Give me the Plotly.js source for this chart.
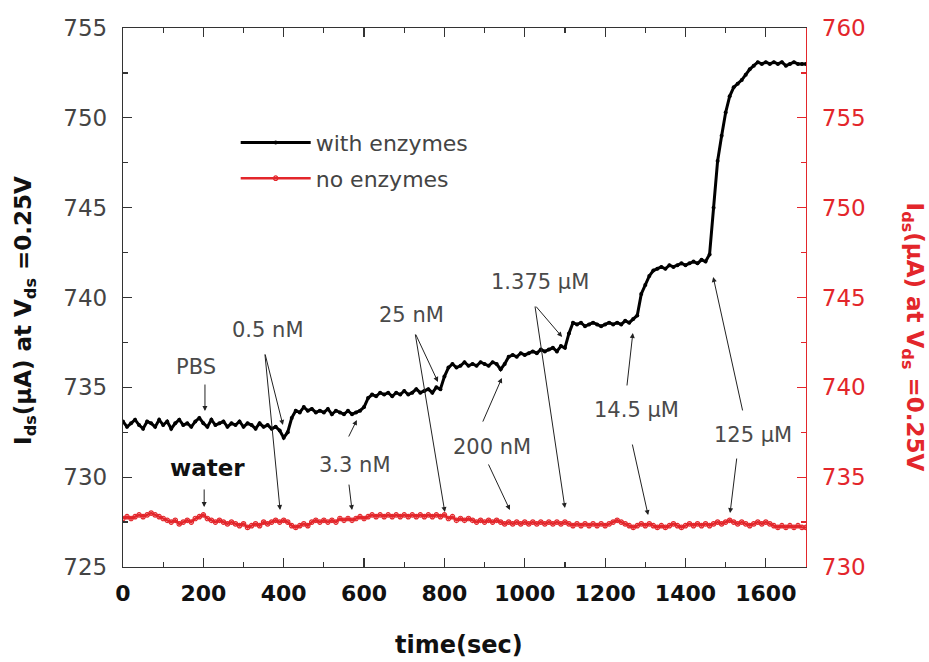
<!DOCTYPE html>
<html>
<head>
<meta charset="utf-8">
<script src="https://cdn.plot.ly/plotly-3.0.1.min.js"></script>
<style>html,body{margin:0;padding:0;background:#fff;}#chart{width:929px;height:662px;}</style>
</head>
<body>
<div id="chart"></div>
<script>
// time axis (sec)
const timeSec = [0,10,20,30,40,50,60,70,80,90,100,110,120,130,140,150,160,170,180,190,200,210,220,230,240,250,260,270,280,290,300,310,320,330,340,350,360,370,380,390,400,410,420,430,440,450,460,470,480,490,500,510,520,530,540,550,560,570,580,590,600,610,620,630,640,650,660,670,680,690,700,710,720,730,740,750,760,770,780,790,800,810,820,830,840,850,860,870,880,890,900,910,920,930,940,950,960,970,980,990,1000,1010,1020,1030,1040,1050,1060,1070,1080,1090,1100,1110,1120,1130,1140,1150,1160,1170,1180,1190,1200,1210,1220,1230,1240,1250,1260,1270,1280,1290,1300,1310,1320,1330,1340,1350,1360,1370,1380,1390,1400,1410,1420,1430,1440,1450,1460,1470,1480,1490,1500,1510,1520,1530,1540,1550,1560,1570,1580,1590,1600,1610,1620,1630,1640,1650,1660,1670,1680,1690,1700];

// with enzymes: Ids (uA), left axis
const withEnzymes = [733.1,732.8,733.0,733.2,732.9,732.7,733.1,733.0,732.8,733.2,
732.9,733.1,732.7,733.0,733.2,732.9,733.0,732.8,733.1,733.3,
733.0,732.8,733.2,732.9,733.0,733.1,732.8,733.0,732.9,733.1,
732.8,733.0,732.9,732.7,733.0,732.8,732.9,732.7,732.8,732.6,
732.2,732.5,733.3,733.7,733.6,733.9,733.7,733.8,733.6,733.7,
733.6,733.8,733.5,733.7,733.6,733.5,733.7,733.5,733.6,733.7,
733.9,734.4,734.6,734.5,734.7,734.6,734.7,734.5,734.7,734.6,
734.8,734.6,734.7,734.9,734.7,734.8,734.9,734.7,735.0,734.9,
735.6,736.1,736.3,736.1,736.2,736.4,736.2,736.3,736.2,736.4,
736.3,736.2,736.4,736.3,736.0,736.3,736.7,736.8,736.7,736.9,
736.8,736.9,737.0,736.9,737.1,737.0,737.1,737.2,737.0,737.3,
737.2,738.0,738.6,738.5,738.6,738.4,738.5,738.6,738.5,738.4,
738.5,738.6,738.5,738.6,738.5,738.7,738.6,738.8,739.0,740.2,
740.7,741.2,741.5,741.6,741.7,741.6,741.8,741.7,741.8,741.9,
741.8,741.9,742.0,741.9,742.1,742.0,742.4,745.0,747.6,749.0,
750.3,751.2,751.7,751.9,752.1,752.4,752.7,752.9,753.1,753.0,
753.1,753.0,753.1,753.0,753.1,752.9,753.0,753.1,753.0,753.0,753.0];

// no enzymes: Ids (uA), right axis
const noEnzymes = [732.7,732.8,732.7,732.8,732.9,732.8,732.9,733.0,732.9,732.8,
732.7,732.6,732.5,732.6,732.4,732.5,732.6,732.5,732.7,732.8,
732.9,732.7,732.6,732.5,732.6,732.5,732.4,732.5,732.4,732.3,
732.4,732.2,732.3,732.4,732.3,732.5,732.4,732.5,732.6,732.5,
732.6,732.5,732.3,732.2,732.3,732.4,732.3,732.5,732.6,732.5,
732.6,732.5,732.6,732.5,732.7,732.6,732.7,732.6,732.7,732.8,
732.7,732.8,732.9,732.8,732.9,732.8,732.9,732.8,732.9,732.8,
732.9,732.8,732.9,732.8,732.9,732.8,732.9,732.8,732.9,732.8,
732.9,732.7,732.8,732.6,732.7,732.6,732.7,732.6,732.5,732.6,
732.5,732.6,732.5,732.6,732.5,732.4,732.5,732.4,732.5,732.4,
732.5,732.4,732.5,732.4,732.5,732.4,732.5,732.4,732.5,732.4,
732.5,732.4,732.3,732.4,732.3,732.4,732.3,732.4,732.3,732.4,
732.3,732.4,732.5,732.6,732.5,732.4,732.3,732.2,732.3,732.4,
732.3,732.4,732.3,732.2,732.3,732.2,732.3,732.4,732.3,732.2,
732.3,732.4,732.3,732.4,732.3,732.4,732.3,732.4,732.5,732.4,
732.5,732.6,732.5,732.4,732.5,732.4,732.3,732.4,732.5,732.4,
732.5,732.4,732.3,732.2,732.3,732.2,732.3,732.2,732.3,732.2,732.2];

const seriesNames = ['with enzymes', 'no enzymes'];
const xTickVals = [0,200,400,600,800,1000,1200,1400,1600];
const yLeftTicks = [725,730,735,740,745,750,755];
const yRightTicks = [730,735,740,745,750,755,760];

// concentration labels: [text, textX, textY]
const labels = [
  ['PBS', 182, 736.13],
  ['0.5 nM', 361, 738.19],
  ['3.3 nM', 577, 730.68],
  ['25 nM', 719, 739.03],
  ['200 nM', 918, 731.68],
  ['1.375 μM', 1038, 740.86],
  ['14.5 μM', 1279, 733.74],
  ['125 μM', 1568, 732.35]
];
// arrows: [tailX, tailY, tipX, tipY]
const arrows = [
  [204,735.24,204,733.68],
  [202,729.40,202,728.34],
  [353,736.91,398,732.90],
  [353,736.91,391,728.17],
  [560,732.18,582,733.18],
  [562,729.67,570,728.17],
  [727,738.02,784,735.30],
  [727,738.02,801,728.06],
  [894,733.01,943,735.52],
  [908,730.79,963,728.17],
  [1025,739.58,1093,737.80],
  [1025,739.58,1100,728.28],
  [1254,735.02,1269,738.02],
  [1267,731.90,1307,727.89],
  [1543,733.63,1469,741.14],
  [1528,731.12,1511,728.00]
];

const RED = '#e3262b';
const FONT = 'DejaVu Sans, Arial, sans-serif';

const traces = [
  {x: timeSec, y: withEnzymes, name: seriesNames[0], type: 'scatter', mode: 'lines+markers',
   line: {color: '#000', width: 3}, marker: {color: '#000', size: 4, symbol: 'circle'},
   legendgroup: 'a'},
  {x: timeSec, y: noEnzymes, name: seriesNames[1], type: 'scatter', mode: 'lines+markers', yaxis: 'y2',
   line: {color: RED, width: 2.6}, marker: {color: RED, size: 4.5, symbol: 'circle-open', line: {width: 1.2, color: RED}},
   legendgroup: 'b'}
];

const annotations = [];
labels.forEach(l => annotations.push({x: l[1], y: l[2], xref: 'x', yref: 'y', text: l[0], showarrow: false,
  font: {family: FONT, size: 21, color: '#4a4a4a'}}));
annotations.push({x: 210, y: 730.51, xref: 'x', yref: 'y', text: 'water', showarrow: false,
  font: {family: FONT, size: 23, color: '#111', weight: 'bold'}});
arrows.forEach(a => annotations.push({x: a[2], y: a[3], ax: a[0], ay: a[1], xref: 'x', yref: 'y', axref: 'x', ayref: 'y',
  text: '', showarrow: true, arrowhead: 2, arrowsize: 1, arrowwidth: 1, arrowcolor: '#222'}));
annotations.push({xref: 'paper', yref: 'paper', x: -0.1435, y: 0.477, xanchor: 'center', yanchor: 'middle',
  text: 'I<sub>ds</sub>(μA) at V<sub>ds</sub> =0.25V', textangle: -90, showarrow: false,
  font: {family: FONT, size: 23, color: '#111', weight: 'bold'}});
annotations.push({xref: 'paper', yref: 'paper', x: 1.157, y: 0.427, xanchor: 'center', yanchor: 'middle',
  text: 'I<sub>ds</sub>(μA) at V<sub>ds</sub> =0.25V', textangle: 90, showarrow: false,
  font: {family: FONT, size: 23, color: RED, weight: 'bold'}});
annotations.push({xref: 'paper', yref: 'paper', x: 0.492, y: -0.1447, xanchor: 'center', yanchor: 'middle',
  text: 'time(sec)', showarrow: false, font: {family: FONT, size: 24, color: '#111', weight: 'bold'}});

const layout = {
  width: 929, height: 662,
  margin: {l: 123, r: 123, t: 28, b: 95, pad: 0},
  paper_bgcolor: '#fff', plot_bgcolor: '#fff',
  showlegend: true,
  legend: {x: 0.165, y: 0.826, xanchor: 'left', yanchor: 'top', bgcolor: 'rgba(0,0,0,0)',
    font: {family: FONT, size: 22, color: '#444'}, itemwidth: 70, tracegroupgap: 4, traceorder: 'grouped'},
  xaxis: {range: [0, 1700], tickvals: xTickVals, ticks: 'inside', ticklen: 9, tickwidth: 1.2, tickcolor: '#333',
    minor: {dtick: 100, ticks: 'inside', ticklen: 5, tickcolor: '#333', showgrid: false},
    showline: true, linecolor: '#333', linewidth: 1.2, mirror: 'ticks', showgrid: false, zeroline: false,
    ticklabelstandoff: 6,
    tickfont: {family: FONT, size: 22, color: '#111', weight: 'bold'}},
  yaxis: {range: [725, 755], tickvals: yLeftTicks, ticks: 'inside', ticklen: 9, tickwidth: 1.2, tickcolor: '#333',
    minor: {dtick: 2.5, ticks: 'inside', ticklen: 5, tickcolor: '#333', showgrid: false},
    showline: true, linecolor: '#333', linewidth: 1.2, showgrid: false, zeroline: false,
    ticklabelstandoff: 10,
    tickfont: {family: FONT, size: 23, color: '#444'}},
  yaxis2: {range: [730, 760], tickvals: yRightTicks, overlaying: 'y', side: 'right', anchor: 'x',
    ticks: 'inside', ticklen: 9, tickwidth: 1.2, tickcolor: RED,
    minor: {dtick: 2.5, ticks: 'inside', ticklen: 5, tickcolor: RED, showgrid: false},
    showline: true, linecolor: RED, linewidth: 1.2, showgrid: false, zeroline: false,
    ticklabelstandoff: 10,
    tickfont: {family: FONT, size: 23, color: RED}},
  annotations: annotations
};

Plotly.newPlot('chart', traces, layout, {displayModeBar: false, staticPlot: true});
</script>
</body>
</html>
